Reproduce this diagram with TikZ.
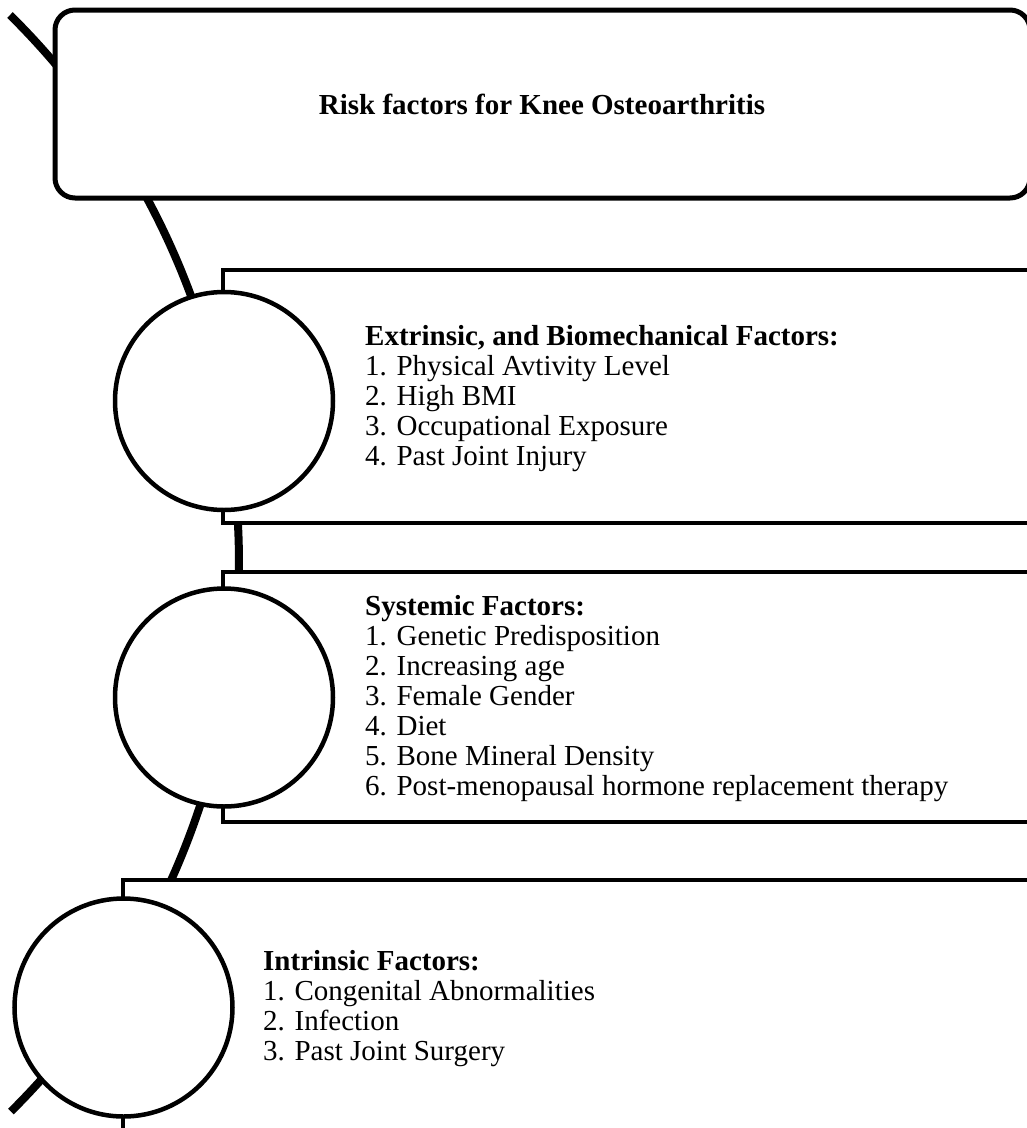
\documentclass[tikz,border=0pt]{standalone}
\usepackage{fontspec}
\setmainfont{Liberation Serif}
\begin{document}
\begin{tikzpicture}[x=1pt,y=-1pt,
  spine/.style={line width=8pt},
  titlebox/.style={draw, line width=5pt, rounded corners=20pt, fill=white, outer sep=0pt, inner sep=0pt, anchor=north west},
  factorbox/.style={draw, line width=4pt, fill=white, outer sep=0pt, inner sep=0pt, anchor=north west},
  bullet/.style={draw, circle, line width=4.5pt, fill=white, minimum size=218pt, inner sep=0pt},
  txt/.style={anchor=base west, inner sep=0pt, font=\fontsize{29}{30}\selectfont}
]
\useasboundingbox (0,0) rectangle (1027,1128);
\renewcommand{\arraystretch}{1}
% spine arc
\draw[spine] (10,15) coordinate (sA) arc[start angle=-45.3, end angle=45.2, radius=772] coordinate (sB);
% title box
\node[titlebox, minimum width=975pt, minimum height=188pt] (title) at (55,10) {};
\node[font=\fontsize{29}{30}\selectfont\bfseries, inner sep=0pt] (titletext) at (542,104) {Risk factors for Knee Osteoarthritis};
% factor boxes
\node[factorbox, minimum width=817pt, minimum height=253pt] (b1) at (223,270) {};
\node[factorbox, minimum width=817pt, minimum height=250pt] (b2) at (223,572) {};
\node[factorbox, minimum width=920pt, minimum height=280pt] (b3) at (123,880) {};
% circles
\node[bullet] (c1) at (224,401) {};
\node[bullet] (c2) at (224,697.5) {};
\node[bullet] (c3) at (123.5,1007.5) {};
% texts
\node[txt] (t1) at (365,345) {\begin{tabular}[t]{@{}l@{}}\textbf{Extrinsic, and Biomechanical Factors:}\\
1. Physical Avtivity Level\\
2. High BMI\\
3. Occupational Exposure\\
4. Past Joint Injury\end{tabular}};
\node[txt] (t2) at (365,615) {\begin{tabular}[t]{@{}l@{}}\textbf{Systemic Factors:}\\
1. Genetic Predisposition\\
2. Increasing age\\
3. Female Gender\\
4. Diet\\
5. Bone Mineral Density\\
6. Post-menopausal hormone replacement therapy\end{tabular}};
\node[txt] (t3) at (263,970) {\begin{tabular}[t]{@{}l@{}}\textbf{Intrinsic Factors:}\\
1. Congenital Abnormalities\\
2. Infection\\
3. Past Joint Surgery\end{tabular}};
\end{tikzpicture}
\end{document}
